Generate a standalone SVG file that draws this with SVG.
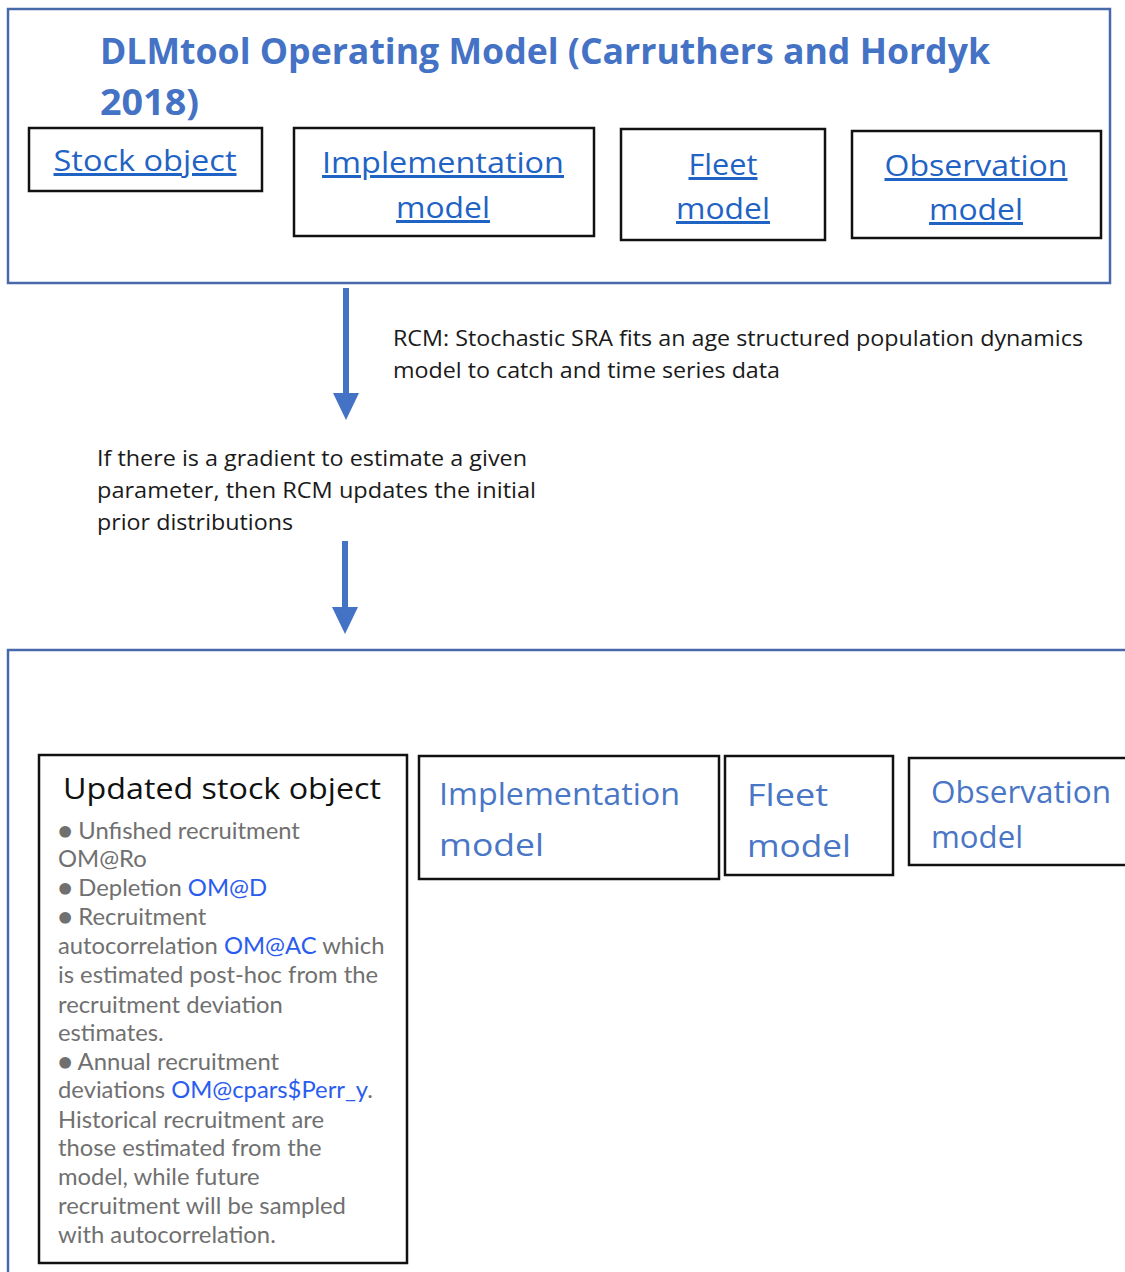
<svg xmlns="http://www.w3.org/2000/svg" width="1125" height="1272" viewBox="0 0 1125 1272">
<style>
.outer{fill:none;stroke:#4769aa;stroke-width:2.5}
.box{fill:#fff;stroke:#111;stroke-width:2.5}
.title{font-family:"Open Sans","Liberation Sans",sans-serif;font-weight:bold;font-size:35px;fill:#4472c4}
.link{font-family:"Open Sans","Liberation Sans",sans-serif;font-size:30px;fill:#1f63c4;text-decoration:underline}
.mod{font-family:"Open Sans","Liberation Sans",sans-serif;font-size:31px;fill:#4a76c6}
.note{font-family:"Open Sans","Liberation Sans",sans-serif;font-size:21px;fill:#1a1a1a}
.st{font-family:"Open Sans","Liberation Sans",sans-serif;font-size:29px;fill:#111}
.body{font-family:Lato,"Liberation Sans",sans-serif;font-size:23.8px;fill:#707070}
.code{fill:#2a5cf0}
.arrow{stroke:#4472c4;stroke-width:6;fill:none}
.head{fill:#4472c4}
</style>
<g id="original-om">
<rect class="outer" x="8" y="9" width="1102" height="274"/>
<text class="title" x="100" y="64" textLength="890" lengthAdjust="spacingAndGlyphs">DLMtool Operating Model (Carruthers and Hordyk</text>
<text class="title" x="100" y="115" textLength="99" lengthAdjust="spacingAndGlyphs">2018)</text>
</g>
<g id="stock-object">
<rect class="box" x="29" y="128" width="233" height="63"/>
<text class="link" x="145" y="171" text-anchor="middle" textLength="183" lengthAdjust="spacingAndGlyphs">Stock object</text>
</g>
<g id="implementation-model">
<rect class="box" x="294" y="128" width="300" height="108"/>
<text class="link" x="443" y="173" text-anchor="middle" textLength="242" lengthAdjust="spacingAndGlyphs">Implementation</text>
<text class="link" x="443" y="218" text-anchor="middle" textLength="94" lengthAdjust="spacingAndGlyphs">model</text>
</g>
<g id="fleet-model">
<rect class="box" x="621" y="129" width="204" height="111"/>
<text class="link" x="723" y="175" text-anchor="middle" textLength="69" lengthAdjust="spacingAndGlyphs">Fleet</text>
<text class="link" x="723" y="219" text-anchor="middle" textLength="94" lengthAdjust="spacingAndGlyphs">model</text>
</g>
<g id="observation-model">
<rect class="box" x="852" y="131" width="249" height="107"/>
<text class="link" x="976" y="176" text-anchor="middle" textLength="183" lengthAdjust="spacingAndGlyphs">Observation</text>
<text class="link" x="976" y="220" text-anchor="middle" textLength="94" lengthAdjust="spacingAndGlyphs">model</text>
</g>
<g id="connectors">
<line class="arrow" x1="346" y1="288" x2="346" y2="396"/>
<polygon class="head" points="333,393 359,393 346,420"/>
<line class="arrow" x1="345" y1="541" x2="345" y2="610"/>
<polygon class="head" points="332,607 358,607 345,634"/>
</g>
<g id="rcm-label">
<text class="note" x="393" y="346" textLength="690" lengthAdjust="spacingAndGlyphs">RCM: Stochastic SRA fits an age structured population dynamics</text>
<text class="note" x="393" y="378" textLength="387" lengthAdjust="spacingAndGlyphs">model to catch and time series data</text>
</g>
<g id="gradient-label">
<text class="note" x="97" y="466" textLength="430" lengthAdjust="spacingAndGlyphs">If there is a gradient to estimate a given</text>
<text class="note" x="97" y="498" textLength="439" lengthAdjust="spacingAndGlyphs">parameter, then RCM updates the initial</text>
<text class="note" x="97" y="530" textLength="196" lengthAdjust="spacingAndGlyphs">prior distributions</text>
</g>
<g id="updated-om">
<path class="outer" d="M8,1272 V650 H1125"/>
</g>
<g id="updated-stock-object">
<rect class="box" x="39" y="755" width="368" height="508"/>
<text class="st" x="63" y="799" textLength="318" lengthAdjust="spacingAndGlyphs">Updated stock object</text>
<text class="body">
<tspan x="58" y="839">● Unfished recruitment</tspan>
<tspan x="58" y="867">OM@Ro</tspan>
<tspan x="58" y="896">● Depletion <tspan class="code">OM@D</tspan></tspan>
<tspan x="58" y="925">● Recruitment</tspan>
<tspan x="58" y="954">autocorrelation <tspan class="code">OM@AC</tspan> which</tspan>
<tspan x="58" y="983">is estimated post-hoc from the</tspan>
<tspan x="58" y="1013">recruitment deviation</tspan>
<tspan x="58" y="1041">estimates.</tspan>
<tspan x="58" y="1070">● Annual recruitment</tspan>
<tspan x="58" y="1098">deviations <tspan class="code">OM@cpars$Perr_y</tspan>.</tspan>
<tspan x="58" y="1128">Historical recruitment are</tspan>
<tspan x="58" y="1156">those estimated from the</tspan>
<tspan x="58" y="1185">model, while future</tspan>
<tspan x="58" y="1214">recruitment will be sampled</tspan>
<tspan x="58" y="1243">with autocorrelation.</tspan>
</text>
</g>
<g id="implementation-model-2">
<rect class="box" x="419" y="756" width="300" height="123"/>
<text class="mod" x="439" y="805" textLength="241" lengthAdjust="spacingAndGlyphs">Implementation</text>
<text class="mod" x="439" y="856" textLength="105" lengthAdjust="spacingAndGlyphs">model</text>
</g>
<g id="fleet-model-2">
<rect class="box" x="725" y="756" width="168" height="119"/>
<text class="mod" x="747" y="806" textLength="81" lengthAdjust="spacingAndGlyphs">Fleet</text>
<text class="mod" x="747" y="857" textLength="104" lengthAdjust="spacingAndGlyphs">model</text>
</g>
<g id="observation-model-2">
<rect class="box" x="909" y="758" width="220" height="107"/>
<text class="mod" x="931" y="803" textLength="180" lengthAdjust="spacingAndGlyphs">Observation</text>
<text class="mod" x="931" y="848" textLength="92" lengthAdjust="spacingAndGlyphs">model</text>
</g>
</svg>
